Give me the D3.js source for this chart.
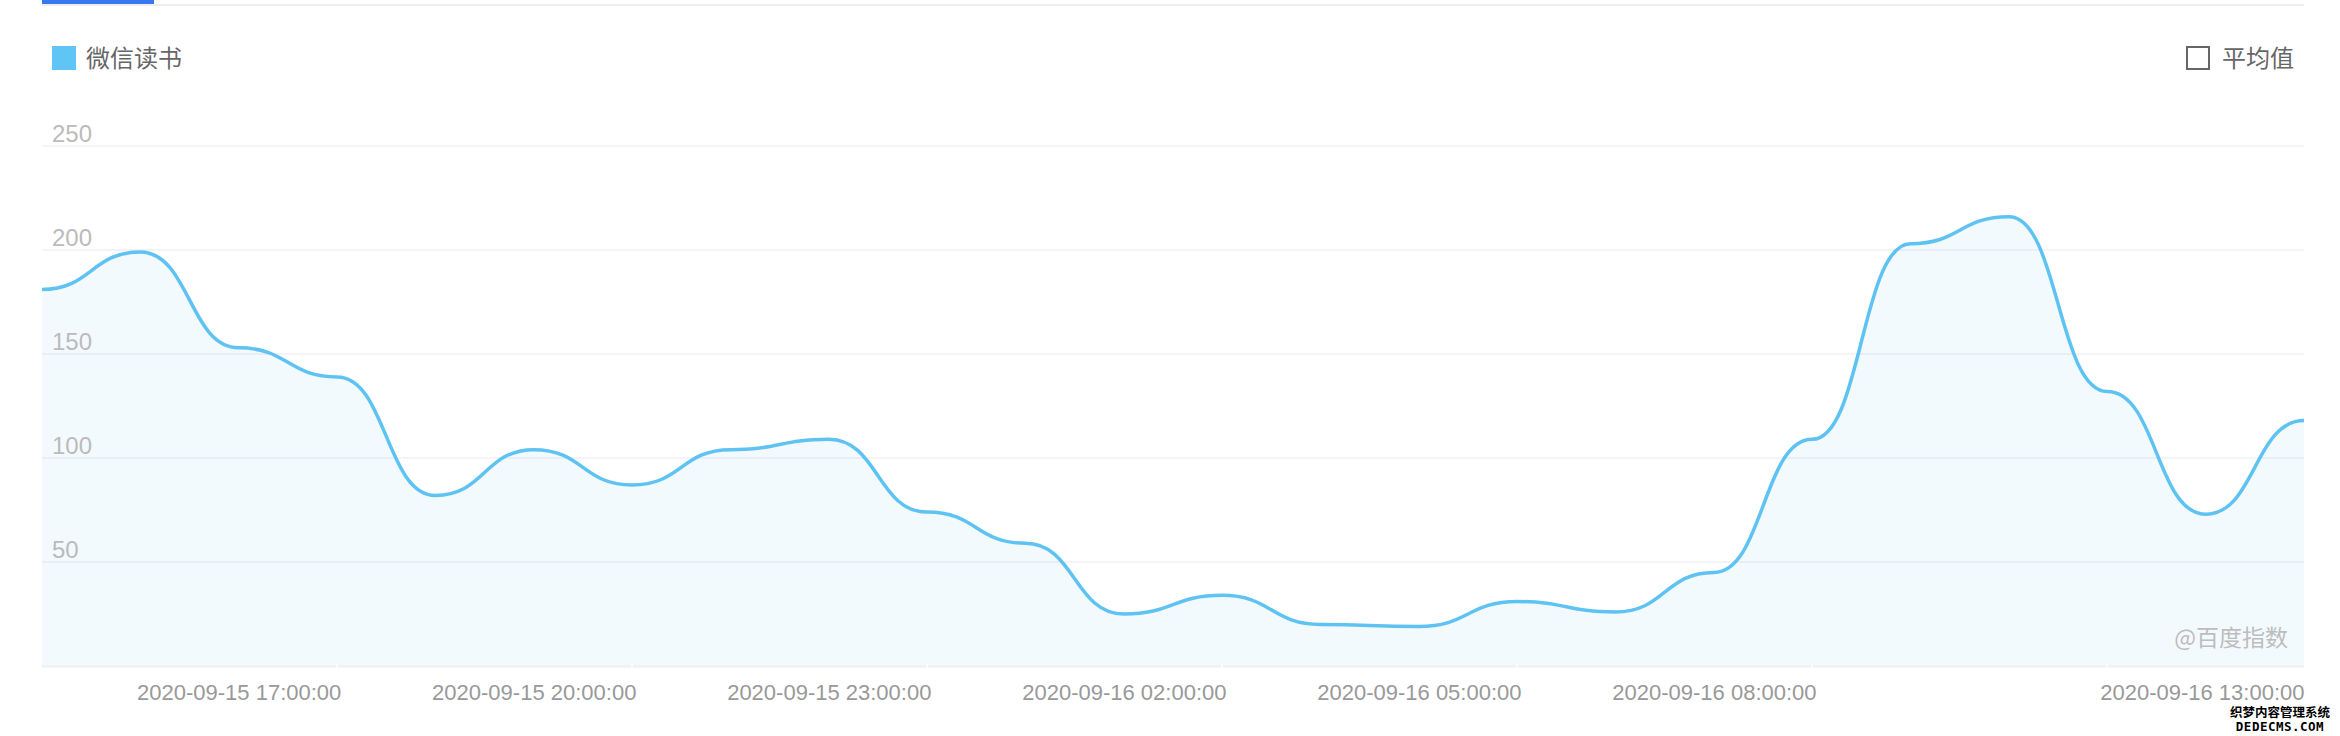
<!DOCTYPE html>
<html>
<head>
<meta charset="utf-8">
<script src="https://cdn.jsdelivr.net/npm/d3@7/dist/d3.min.js"></script>
<style>
  html, body { margin: 0; padding: 0; background: #fff; }
  svg { display: block; }
</style>
</head>
<body>
<svg id="chart" width="2340" height="736"></svg>
<script>
// ---- data ----
const categories = [
  "2020-09-15 15:00:00", "2020-09-15 16:00:00", "2020-09-15 17:00:00", "2020-09-15 18:00:00",
  "2020-09-15 19:00:00", "2020-09-15 20:00:00", "2020-09-15 21:00:00", "2020-09-15 22:00:00",
  "2020-09-15 23:00:00", "2020-09-16 00:00:00", "2020-09-16 01:00:00", "2020-09-16 02:00:00",
  "2020-09-16 03:00:00", "2020-09-16 04:00:00", "2020-09-16 05:00:00", "2020-09-16 06:00:00",
  "2020-09-16 07:00:00", "2020-09-16 08:00:00", "2020-09-16 09:00:00", "2020-09-16 10:00:00",
  "2020-09-16 11:00:00", "2020-09-16 12:00:00", "2020-09-16 13:00:00", "2020-09-16 14:00:00"
];
const values = [181, 199, 153, 139, 82, 104, 87, 104, 109, 74, 59, 25, 34, 20, 19, 31, 26, 45, 109, 203, 216, 132, 73, 118];
const seriesName = "微信读书";
const averageLabel = "平均值";
const watermark = "@百度指数";
const yTicks = [50, 100, 150, 200, 250];
const xTickLabels = [
  "2020-09-15 17:00:00", "2020-09-15 20:00:00", "2020-09-15 23:00:00", "2020-09-16 02:00:00",
  "2020-09-16 05:00:00", "2020-09-16 08:00:00", "2020-09-16 13:00:00"
];
const xTickMarks = [
  "2020-09-15 15:00:00", "2020-09-15 18:00:00", "2020-09-15 21:00:00", "2020-09-16 00:00:00",
  "2020-09-16 03:00:00", "2020-09-16 06:00:00", "2020-09-16 09:00:00", "2020-09-16 12:00:00"
];

(function () {
// ---- layout ----
const plotL = 42, plotR = 2304, plotT = 146, plotB = 666;
const lineColor = "#5ec3f2";
const fillColor = "#f3fafe";
const numFont = "'Liberation Sans', Arial, 'Noto Sans', sans-serif";
const cjkFont = "'Noto Sans CJK SC', 'Noto Sans', sans-serif";

const svg = d3.select("#chart");
const x = d3.scalePoint().domain(categories).range([plotL, plotR]);
const y = d3.scaleLinear().domain([0, 250]).range([plotB, plotT]);

// top tab bar
svg.append("rect").attr("x", plotL).attr("y", 4).attr("width", plotR - plotL).attr("height", 2).attr("fill", "#eeeeee");
svg.append("rect").attr("x", plotL).attr("y", 0).attr("width", 112).attr("height", 4).attr("fill", "#3a78f2");

// legend
svg.append("rect").attr("x", 52).attr("y", 46).attr("width", 24).attr("height", 24).attr("fill", "#5fc5f5");
svg.append("text").attr("x", 86).attr("y", 67).text(seriesName)
  .attr("font-family", cjkFont).attr("font-size", 24).attr("fill", "#666");

svg.append("rect").attr("x", 2187).attr("y", 47).attr("width", 22).attr("height", 22)
  .attr("fill", "none").attr("stroke", "#666").attr("stroke-width", 2);
svg.append("text").attr("x", 2222).attr("y", 67).text(averageLabel)
  .attr("font-family", cjkFont).attr("font-size", 24).attr("fill", "#666");

// area fill
const area = d3.area()
  .x((d, i) => x(categories[i]))
  .y0(y(0))
  .y1(d => y(d))
  .curve(d3.curveBumpX);
svg.append("path").datum(values).attr("d", area).attr("fill", fillColor);

// grid lines
svg.append("g").selectAll("line").data(yTicks).join("line")
  .attr("x1", plotL).attr("x2", plotR)
  .attr("y1", d => y(d)).attr("y2", d => y(d))
  .attr("stroke", "rgba(0,20,40,0.06)").attr("stroke-width", 1.5);

// baseline
svg.append("line").attr("x1", plotL).attr("x2", plotR).attr("y1", y(0) + 0.5).attr("y2", y(0) + 0.5)
  .attr("stroke", "#eef0f2").attr("stroke-width", 2);
// tick separators (white gaps)
svg.append("g").selectAll("line").data(xTickMarks.slice(1)).join("line")
  .attr("x1", d => x(d)).attr("x2", d => x(d))
  .attr("y1", y(0) - 2).attr("y2", y(0) + 3)
  .attr("stroke", "#fff").attr("stroke-width", 1.5);

// y labels
svg.append("g").selectAll("text").data(yTicks).join("text")
  .attr("x", 52).attr("y", d => y(d) - 4)
  .text(d => d)
  .attr("font-family", numFont).attr("font-size", 24).attr("fill", "#bbbbbb");

// line
const line = d3.line()
  .x((d, i) => x(categories[i]))
  .y(d => y(d))
  .curve(d3.curveBumpX);
svg.append("path").datum(values).attr("d", line)
  .attr("fill", "none").attr("stroke", lineColor).attr("stroke-width", 3.5);

// x axis labels
const xAxis = d3.axisBottom(x).tickValues(xTickLabels).tickSize(0).tickPadding(0);
const gx = svg.append("g").attr("transform", `translate(0, ${plotB})`).call(xAxis);
gx.select(".domain").remove();
gx.selectAll("text")
  .attr("y", 34).attr("dy", null)
  .attr("font-family", numFont).attr("font-size", 22).attr("fill", "#999999");
gx.selectAll(".tick").each(function (d) {
  const t = d3.select(this).select("text");
  const w = t.node().getComputedTextLength();
  const cx = x(d);
  if (cx + w / 2 > plotR) {
    t.attr("text-anchor", "end").attr("x", plotR - cx);
  }
});

// watermark
svg.append("text").attr("x", 2288).attr("y", 646).attr("text-anchor", "end").text(watermark)
  .attr("font-family", cjkFont).attr("font-size", 23).attr("fill", "#bdbdbd");

// site stamp in corner
const stamp = svg.append("g");
stamp.append("rect").attr("x", 2229).attr("y", 704).attr("width", 101).attr("height", 28).attr("fill", "#fff");
stamp.append("text").attr("x", 2280).attr("y", 717).attr("text-anchor", "middle").text("织梦内容管理系统")
  .attr("font-family", cjkFont).attr("font-size", 12.5).attr("font-weight", "bold").attr("fill", "#000");
stamp.append("text").attr("x", 2280).attr("y", 731).attr("text-anchor", "middle").text("DEDECMS.COM")
  .attr("font-family", "'DejaVu Sans Mono', monospace").attr("font-size", 12.5).attr("font-weight", "bold").attr("fill", "#000")
  .attr("letter-spacing", 0.5);
})();
</script>
</body>
</html>
